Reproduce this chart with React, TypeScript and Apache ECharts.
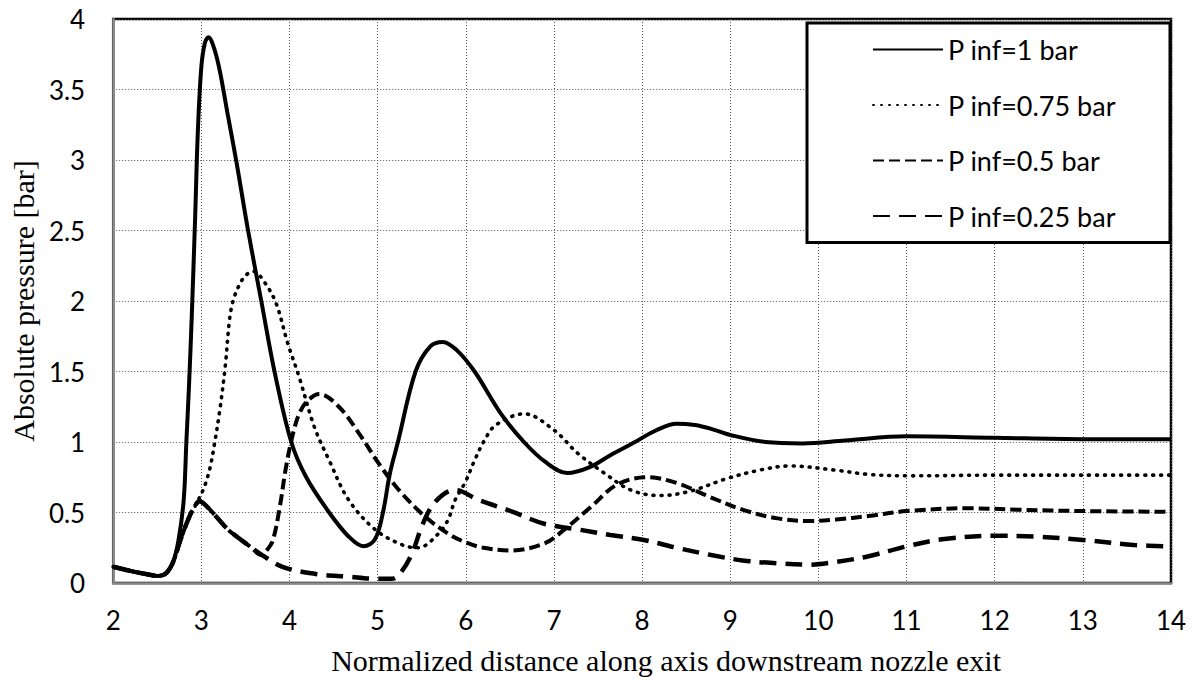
import React, { useEffect, useRef } from "react";
import * as echarts from "echarts";

const seriesNames = ["P inf=1 bar", "P inf=0.75 bar", "P inf=0.5 bar", "P inf=0.25 bar"];

const xP100 = [2, 2.2, 2.4, 2.5, 2.6, 2.68, 2.74, 2.8, 2.83, 2.86, 2.89, 2.93, 2.96, 3.0, 3.04, 3.08, 3.13, 3.2, 3.3, 3.4, 3.53, 3.68, 3.83, 4.02, 4.19, 4.45, 4.67, 4.84, 4.97, 5.06, 5.14, 5.23, 5.43, 5.6, 5.74, 5.9, 6.1, 6.4, 6.66, 6.9, 7.15, 7.4, 7.65, 7.92, 8.15, 8.39, 8.6, 8.8, 9.0, 9.4, 9.82, 10.3, 11.0, 12.0, 13.0, 14.0];
const yP100 = [0.115, 0.085, 0.06, 0.05, 0.07, 0.15, 0.3, 0.59, 1.0, 1.4, 1.87, 2.6, 3.2, 3.66, 3.83, 3.87, 3.82, 3.66, 3.32, 2.98, 2.5, 2.0, 1.5, 1.0, 0.75, 0.5, 0.33, 0.26, 0.31, 0.5, 0.78, 1.0, 1.5, 1.68, 1.71, 1.65, 1.5, 1.2, 1.0, 0.86, 0.78, 0.82, 0.91, 1.0, 1.08, 1.13, 1.12, 1.09, 1.05, 1.0, 0.99, 1.01, 1.04, 1.03, 1.02, 1.02];

const xP075 = [2, 2.2, 2.4, 2.5, 2.6, 2.68, 2.76, 2.85, 2.95, 3.02, 3.06, 3.1, 3.15, 3.21, 3.27, 3.32, 3.36, 3.42, 3.5, 3.59, 3.72, 3.85, 3.98, 4.11, 4.28, 4.45, 4.67, 4.97, 5.28, 5.46, 5.69, 5.8, 5.88, 5.99, 6.1, 6.21, 6.34, 6.66, 7.0, 7.27, 7.57, 7.87, 8.2, 8.54, 8.96, 9.33, 9.67, 10.2, 10.57, 11.06, 12.0, 13.0, 14.0];
const yP075 = [0.115, 0.085, 0.06, 0.05, 0.07, 0.15, 0.3, 0.45, 0.57, 0.66, 0.73, 0.82, 0.99, 1.23, 1.53, 1.87, 2.0, 2.1, 2.18, 2.21, 2.13, 1.98, 1.7, 1.46, 1.11, 0.87, 0.59, 0.38, 0.27, 0.25, 0.35, 0.45, 0.59, 0.71, 0.87, 1.01, 1.12, 1.2, 1.085, 0.92, 0.78, 0.66, 0.62, 0.65, 0.74, 0.8, 0.83, 0.8, 0.77, 0.76, 0.765, 0.765, 0.765];

const xP050 = [2, 2.2, 2.4, 2.5, 2.6, 2.68, 2.76, 2.85, 2.92, 2.98, 3.05, 3.17, 3.3, 3.4, 3.55, 3.68, 3.74, 3.81, 3.89, 3.96, 4.04, 4.11, 4.2, 4.34, 4.56, 4.79, 5.01, 5.24, 5.54, 5.8, 5.99, 6.2, 6.51, 6.89, 7.12, 7.42, 7.72, 8.06, 8.39, 8.77, 9.14, 9.52, 9.89, 10.2, 10.57, 11.0, 11.7, 12.26, 13.0, 14.0];
const yP050 = [0.115, 0.085, 0.06, 0.05, 0.07, 0.15, 0.3, 0.45, 0.54, 0.58, 0.55, 0.47, 0.38, 0.33, 0.26, 0.2, 0.23, 0.3, 0.54, 0.82, 1.06, 1.2, 1.29, 1.34, 1.25, 1.06, 0.85, 0.66, 0.47, 0.35, 0.29, 0.25, 0.23, 0.28, 0.38, 0.54, 0.7, 0.75, 0.71, 0.61, 0.52, 0.46, 0.44, 0.45, 0.475, 0.51, 0.53, 0.52, 0.51, 0.505];

const xP025 = [2, 2.2, 2.4, 2.5, 2.6, 2.68, 2.76, 2.85, 2.92, 2.98, 3.05, 3.17, 3.3, 3.4, 3.55, 3.66, 3.92, 4.3, 4.67, 4.97, 5.16, 5.27, 5.39, 5.5, 5.61, 5.75, 5.88, 6.14, 6.51, 6.89, 7.27, 7.64, 8.02, 8.39, 8.77, 9.14, 9.52, 9.89, 10.2, 10.57, 11.0, 11.4, 12.0, 12.45, 13.0, 13.58, 14.0];
const yP025 = [0.115, 0.085, 0.06, 0.05, 0.07, 0.15, 0.3, 0.45, 0.54, 0.58, 0.55, 0.47, 0.38, 0.33, 0.26, 0.21, 0.115, 0.064, 0.045, 0.03, 0.03, 0.08, 0.21, 0.4, 0.54, 0.63, 0.66, 0.59, 0.51, 0.42, 0.38, 0.34, 0.305, 0.25, 0.2, 0.16, 0.14, 0.13, 0.15, 0.19, 0.26, 0.31, 0.335, 0.33, 0.305, 0.27, 0.26];

const xTitle = "Normalized distance along axis downstream nozzle exit";
const yTitle = "Absolute pressure [bar]";

const pair = (xs: number[], ys: number[]) => xs.map((x, i) => [x, ys[i]]);

export default function App() {
  const ref = useRef<HTMLDivElement>(null);
  useEffect(() => {
    if (!ref.current) return;
    const chart = echarts.init(ref.current, undefined, { renderer: "svg" });
    const labelFont = { fontFamily: "Lato", fontSize: 26, color: "#000" };
    const styles = [
      { width: 4, type: "solid" as any, cap: "butt" },
      { width: 3.6, type: [1, 7] as any, cap: "round" },
      { width: 4, type: [11, 5] as any, cap: "butt" },
      { width: 4.5, type: [17, 9] as any, cap: "butt" },
    ];
    const datasets = [pair(xP100, yP100), pair(xP075, yP075), pair(xP050, yP050), pair(xP025, yP025)];
    chart.setOption({
      animation: false,
      backgroundColor: "#fff",
      grid: {
        left: 106,
        top: 19,
        right: 25,
        bottom: 97,
        show: true,
        borderColor: "#000",
        borderWidth: 2.5,
      },
      legend: {
        data: seriesNames,
        orient: "vertical",
        left: 807,
        top: 23,
        padding: [13, 22, 13, 65],
        itemWidth: 70,
        itemHeight: 14,
        itemGap: 28.5,
        backgroundColor: "#fff",
        borderColor: "#000",
        borderWidth: 3,
        itemStyle: { opacity: 0 },
        textStyle: { fontFamily: "Lato", fontSize: 27, color: "#000", lineHeight: 26, width: 200 },
      },
      xAxis: {
        type: "value",
        min: 2,
        max: 14,
        interval: 1,
        name: xTitle,
        nameLocation: "middle",
        nameGap: 62,
        nameTextStyle: { fontFamily: "Liberation Serif", fontSize: 30, color: "#000", padding: [0, 0, 0, 48] },
        axisLine: { show: true, onZero: false, lineStyle: { color: "#8a8a8a", width: 2.5 } },
        axisTick: { show: false },
        axisLabel: { ...labelFont, margin: 24 },
        splitLine: { show: true, lineStyle: { color: "#555", width: 1, type: [1, 2] } },
      },
      yAxis: {
        type: "value",
        min: 0,
        max: 4,
        interval: 0.5,
        name: yTitle,
        nameLocation: "middle",
        nameGap: 65,
        nameTextStyle: { fontFamily: "Liberation Serif", fontSize: 30, color: "#000" },
        axisLine: { show: true, onZero: false, lineStyle: { color: "#8a8a8a", width: 2.5 } },
        axisTick: { show: false },
        axisLabel: { ...labelFont, margin: 28 },
        splitLine: { show: true, lineStyle: { color: "#555", width: 1, type: [1, 2] } },
      },
      series: seriesNames.map((name, i) => ({
        name,
        type: "line",
        data: datasets[i],
        smooth: 0.35,
        showSymbol: false,
        symbol: "none",
        z: 10 - i,
        lineStyle: { color: "#000", ...styles[i] },
        itemStyle: { color: "#000" },
      })),
    });
    return () => chart.dispose();
  }, []);
  return <div ref={ref} style={{ position: "absolute", left: 0, top: 0, width: 1196, height: 680 }} />;
}
